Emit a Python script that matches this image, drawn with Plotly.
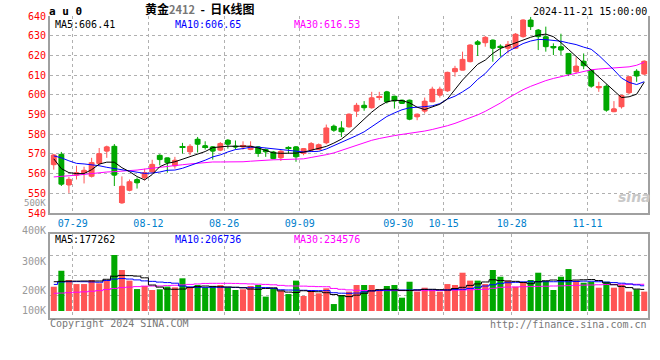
import plotly.graph_objects as go

DATES = ["07-25","07-26","07-29","07-30","07-31","08-01","08-02","08-05","08-06","08-07",
         "08-08","08-09","08-12","08-13","08-14","08-15","08-16","08-19","08-20","08-21",
         "08-22","08-23","08-26","08-27","08-28","08-29","08-30","09-02","09-03","09-04",
         "09-05","09-06","09-09","09-10","09-11","09-12","09-13","09-18","09-19","09-20",
         "09-23","09-24","09-25","09-26","09-27","09-30","10-08","10-09","10-10","10-11",
         "10-14","10-15","10-16","10-17","10-18","10-21","10-22","10-23","10-24","10-25",
         "10-28","10-29","10-30","10-31","11-01","11-04","11-05","11-06","11-07","11-08",
         "11-11","11-12","11-13","11-14","11-15","11-18","11-19","11-20","11-21"]

OPEN = [564.5,569.8,554.2,559.2,560.7,558.6,565.1,571.4,573.9,545.1,
        551.5,557.0,557.8,560.8,569.3,568.0,563.9,573.6,571.0,577.5,
        574.2,573.6,571.9,577.0,574.0,573.5,572.2,573.6,572.2,571.0,
        568.0,573.3,573.6,570.2,571.9,572.2,575.6,584.1,583.2,583.7,
        591.7,594.7,593.4,598.6,601.5,599.3,597.3,597.3,588.8,591.7,
        596.4,599.8,602.0,611.7,612.5,616.8,626.9,626.4,627.8,624.7,
        623.6,623.6,629.5,638.0,632.9,629.5,624.4,624.4,621.0,611.7,
        617.1,612.5,603.5,604.4,591.4,593.9,601.0,612.0,610.5]
HIGH = [570.0,571.0,558.3,564.0,563.5,568.0,573.0,574.2,575.0,558.6,
        557.0,558.0,562.5,567.0,569.8,568.0,568.5,575.6,575.0,578.6,
        576.4,574.0,576.0,577.5,576.8,576.4,576.4,574.0,572.7,571.5,
        571.9,573.9,574.0,573.0,576.0,575.3,584.9,584.9,586.6,590.5,
        595.9,596.8,601.5,601.5,602.0,599.5,597.5,597.5,590.5,598.6,
        604.1,604.1,611.7,614.7,621.9,625.6,627.8,629.8,628.0,625.6,
        627.3,631.3,638.3,639.5,633.4,634.6,626.1,631.0,621.2,619.0,
        621.0,612.8,606.6,605.3,596.8,600.0,609.5,613.0,617.5]
LOW = [562.0,553.7,550.2,557.0,555.0,558.0,564.0,568.0,553.7,544.7,
       551.0,552.4,556.6,560.0,564.2,560.5,562.5,570.2,569.3,570.7,
       572.2,567.1,571.4,572.7,572.2,572.2,571.9,568.5,568.5,567.3,
       566.4,570.2,566.0,569.3,571.4,571.9,574.9,581.2,578.6,583.4,
       588.8,591.9,593.0,597.3,595.6,593.0,595.4,587.1,587.1,590.5,
       596.4,598.6,601.5,609.2,612.5,616.5,619.7,624.4,616.8,619.3,
       621.0,623.2,629.0,632.9,622.7,621.9,620.2,620.2,609.5,610.8,
       613.0,603.6,601.5,591.4,591.2,593.0,600.3,606.6,610.0]
CLOSE = [569.5,554.6,557.1,560.5,561.7,565.6,570.2,573.6,559.2,553.6,
         555.9,555.3,560.5,564.7,567.1,565.6,566.8,573.3,573.9,574.9,
         573.4,571.4,575.3,574.9,573.5,574.3,573.9,570.2,571.0,567.6,
         571.4,572.7,568.5,572.7,575.3,574.7,583.2,582.0,581.2,590.2,
         594.7,593.4,598.5,599.0,596.4,596.8,595.6,587.6,590.2,596.8,
         602.9,602.9,611.4,613.4,618.0,625.3,625.6,629.2,623.6,624.1,
         625.6,630.8,638.0,634.6,629.5,624.4,623.8,622.7,610.5,614.6,
         614.7,604.4,604.2,592.2,592.9,599.7,609.2,609.5,617.1]

MA5 = [567.5,562.5,560.5,560.0,560.0,562.0,564.8,565.8,565.8,563.0,
       561.0,558.5,556.8,559.5,563.5,565.2,566.0,567.3,568.5,569.5,
       571.2,573.2,573.7,573.9,573.9,573.9,573.9,573.0,571.8,570.5,
       570.3,570.2,570.4,570.9,571.8,572.7,573.8,575.5,577.5,580.5,
       584.0,588.0,591.2,594.2,596.4,597.2,597.1,595.9,593.7,592.5,
       593.8,595.2,597.9,602.5,607.5,611.5,615.5,617.6,621.0,623.5,
       625.0,626.3,628.0,629.2,630.3,630.8,629.5,626.5,623.0,619.5,
       616.5,612.9,609.5,606.0,602.2,598.6,599.0,600.3,606.41]
MA10 = [569.0,568.0,566.5,565.2,564.9,564.5,564.0,563.2,562.5,562.0,
        561.2,560.6,560.1,560.3,560.8,561.7,561.8,562.7,564.0,565.5,
        566.8,568.5,569.5,571.0,572.2,572.7,573.4,573.4,573.0,572.5,
        572.0,571.6,571.1,571.0,571.2,571.3,572.5,574.2,575.5,577.5,
        579.3,581.2,583.8,586.3,589.0,590.8,592.4,593.4,593.6,594.0,
        594.4,595.5,597.8,599.3,601.5,604.0,607.8,610.8,615.0,618.8,
        622.0,624.0,626.0,627.3,628.1,628.0,627.7,627.2,626.3,625.5,
        624.2,623.1,620.0,616.5,612.6,608.5,606.3,605.2,606.65]
MA30 = [558.3,558.5,558.7,559.2,559.6,560.1,560.4,560.8,561.0,561.2,
        561.4,561.8,562.3,562.8,563.3,563.8,564.1,564.5,564.9,565.3,
        565.6,565.9,565.9,565.9,565.9,566.0,566.3,566.6,566.8,567.0,
        567.1,567.2,567.3,567.5,568.2,568.8,569.6,570.5,571.8,573.2,
        574.6,575.8,576.9,577.8,578.7,579.3,579.9,580.4,580.8,581.6,
        582.4,583.3,584.3,585.5,586.8,588.2,589.8,591.6,593.5,595.8,
        598.3,600.5,602.6,604.3,605.8,607.2,608.3,609.2,610.2,611.0,
        612.0,612.7,613.1,613.4,613.5,613.7,614.2,615.0,616.53]

# volume in thousands of lots
VOLUME = [199,330,254,221,221,254,227,254,459,336,
          249,180,205,172,178,200,194,268,194,213,
          194,205,213,194,172,178,205,213,118,186,
          167,139,249,123,167,145,186,57,131,159,
          213,213,213,178,205,213,109,240,159,191,
          172,159,221,213,314,249,249,221,336,281,
          249,199,232,254,314,246,172,281,344,249,
          232,240,191,240,191,213,159,178,159]
VMA5 = [240,243,245,245,246,246,246,260,285,292,
        290,286,272,213,196,180,178,180,192,200,
        205,202,199,197,195,190,180,178,185,190,
        165,155,152,166,160,158,150,135,125,118,
        130,145,165,175,178,174,169,168,172,177,
        178,175,172,184,194,210,222,238,256,250,
        246,243,234,224,240,248,254,250,250,254,
        256,258,250,230,215,202,192,180,177]
VMA10 = [218,238,240,241,240,238,236,250,262,266,
         262,255,247,243,237,233,228,205,198,194,
         194,194,194,194,193,192,191,191,192,185,
         174,172,171,170,168,167,167,150,146,145,
         147,157,165,168,170,172,172,172,174,177,
         175,172,173,177,178,185,195,205,215,227,
         232,235,239,240,240,240,240,240,240,242,
         245,244,240,237,233,228,222,214,207]
VMA30 = [145,147,150,154,157,162,167,176,185,192,
         196,200,204,205,205,208,211,214,218,222,
         226,227,227,227,226,224,222,220,218,215,
         210,206,205,204,202,200,199,185,178,173,
         170,168,167,167,167,167,167,167,167,167,
         167,168,170,171,172,174,176,178,186,194,
         196,197,199,200,202,203,205,206,208,210,
         212,213,215,217,218,219,219,219,219]

XTICK_DATES = ["07-29","08-12","08-26","09-09","09-30","10-15","10-28","11-11"]
PRICE_TICKS = [540,550,560,570,580,590,600,610,620,630,640]
VOL_LABELS = ["500K","400K","300K","200K","100K"]
PRICE_LEGEND = ["MA5:606.41", "MA10:606.65", "MA30:616.53"]
VOL_LEGEND = ["MA5:177262", "MA10:206736", "MA30:234576"]

NB = "\u00a0"
TITLE = "黄金<span style='color:#777777;font-size:11px'>2412</span>" + NB * 2 + "-" + NB * 2 + "日K线图"
SYMBOL = "a u 0"
STAMP = "2024-11-21 15:00:00"

RED = "#ff5555"
GREEN = "#00a800"
GRID = "#b0b0b0"
AXIS = "#a0a0a0"
MONO = "DejaVu Sans Mono"
LEG_COLORS = ["#000000", "#0000ff", "#ff00ff"]

x = list(range(len(DATES)))
tickvals = [DATES.index(d) + 0.5 for d in XTICK_DATES]
up = [c >= o for o, c in zip(OPEN, CLOSE)]
colors = [RED if u else GREEN for u in up]
body_base = [min(o, c) for o, c in zip(OPEN, CLOSE)]
body_h = [abs(c - o) for o, c in zip(OPEN, CLOSE)]

fig = go.Figure()
# wicks (and thin doji bodies)
fig.add_trace(go.Candlestick(
    x=x, open=OPEN, high=HIGH, low=LOW, close=CLOSE,
    increasing=dict(line=dict(color=RED, width=1), fillcolor=RED),
    decreasing=dict(line=dict(color=GREEN, width=1), fillcolor=GREEN),
    whiskerwidth=0, xaxis="x", yaxis="y", showlegend=False, hoverinfo="skip"))
# candle bodies
fig.add_trace(go.Bar(x=x, y=body_h, base=body_base, width=0.78,
                     marker=dict(color=colors, line=dict(width=0)),
                     xaxis="x", yaxis="y", showlegend=False, hoverinfo="skip"))
for arr, col in [(MA30, "#ff00ff"), (MA10, "#0000ff"), (MA5, "#000000")]:
    fig.add_trace(go.Scatter(x=x, y=arr, mode="lines", line=dict(color=col, width=1),
                             xaxis="x", yaxis="y", showlegend=False, hoverinfo="skip"))

fig.add_trace(go.Bar(x=x, y=VOLUME, marker=dict(color=colors, line=dict(width=0)),
                     width=0.8, xaxis="x2", yaxis="y2", showlegend=False, hoverinfo="skip"))
for arr, col in [(VMA30, "#ff00ff"), (VMA10, "#0000ff"), (VMA5, "#000000")]:
    fig.add_trace(go.Scatter(x=x, y=arr, mode="lines", line=dict(color=col, width=1, shape="hvh"),
                             xaxis="x2", yaxis="y2", showlegend=False, hoverinfo="skip"))

# layout geometry (pixels)
L, R, T, B = 50, 10, 16, 42
H = 360 - T - B
def py(ypix):
    return (360 - B - ypix) / H
def px(xpix):
    return (xpix - L) / (660 - L - R)

VOL_PX = 8.2        # thousand lots per pixel
VOL_ZERO_PIX = 311
vol_range = [-(360 - B - VOL_ZERO_PIX) * VOL_PX, (VOL_ZERO_PIX - 234.3) * VOL_PX]
vol_grid = [(VOL_ZERO_PIX - yp) * VOL_PX for yp in (255, 275, 295)]

xcommon = dict(range=[-0.5, len(DATES) - 0.5], tickvals=tickvals, showgrid=True,
               gridcolor=GRID, griddash="dot", gridwidth=1, showline=True,
               linecolor=AXIS, linewidth=2, ticks="", zeroline=False, fixedrange=True)

fig.update_layout(
    width=660, height=360, margin=dict(l=L, r=R, t=T, b=B),
    paper_bgcolor="white", plot_bgcolor="white",
    font=dict(family=MONO, size=10),
    xaxis=dict(**xcommon, ticktext=XTICK_DATES, anchor="y", domain=[0, 1],
               tickfont=dict(color="#0080cc", size=10, family=MONO), rangeslider=dict(visible=False)),
    yaxis=dict(domain=[py(213), 1], range=[540, 640], tickvals=PRICE_TICKS,
               tickfont=dict(color="#ff0000", size=10, family=MONO), showgrid=True,
               gridcolor=GRID, griddash="dot", showline=True, linecolor=AXIS, linewidth=2,
               mirror=True, ticks="", zeroline=False, anchor="x"),
    xaxis2=dict(**xcommon, showticklabels=False, anchor="y2", domain=[0, 1], mirror=True),
    yaxis2=dict(domain=[0, py(234.3)], range=vol_range, tickvals=vol_grid, showticklabels=False,
                showgrid=True, gridcolor=GRID, griddash="dot", showline=True, linecolor=AXIS,
                linewidth=2, mirror=True, ticks="", zeroline=False, anchor="x2"),
    bargap=0.2,
)

ann = []
def text(t, xp, yp, color="#000000", size=10, xanchor="left", family=MONO):
    ann.append(dict(text=t, x=px(xp), y=py(yp), xref="paper", yref="paper", showarrow=False,
                    xanchor=xanchor, yanchor="middle", borderpad=0,
                    font=dict(color=color, size=size, family=family)))

text("<b>" + SYMBOL + "</b>", 48, 11, size=11)
text("<b>" + TITLE + "</b>", 200, 9, size=12, xanchor="center", family="Noto Sans CJK SC")
text(STAMP, 650, 12, size=10, xanchor="right")
for lab, xp, col in zip(PRICE_LEGEND, [54, 174, 294], LEG_COLORS):
    text(lab, xp, 24, col, 10)
for lab, xp, col in zip(VOL_LEGEND, [54, 174, 294], LEG_COLORS):
    text(lab, xp, 239, col, 10)
for lab, yp, sz in zip(VOL_LABELS, [202.5, 230.5, 261, 290, 310], [9, 10, 10, 10, 10]):
    text(lab, 47, yp, "#999999", sz, xanchor="right")
text("Copyright 2024 SINA.COM", 49, 323.5, "#777777", 10)
text("http://finance.sina.com.cn", 650, 324, "#777777", 10, xanchor="right")
text("<b><i>sina</i></b>", 636, 197, "#c8c8c8", 14, xanchor="center", family="DejaVu Sans")
fig.update_layout(annotations=ann)

fig.write_html("out.html", config={"displayModeBar": False},
               post_script="document.body.style.margin='0px';")
